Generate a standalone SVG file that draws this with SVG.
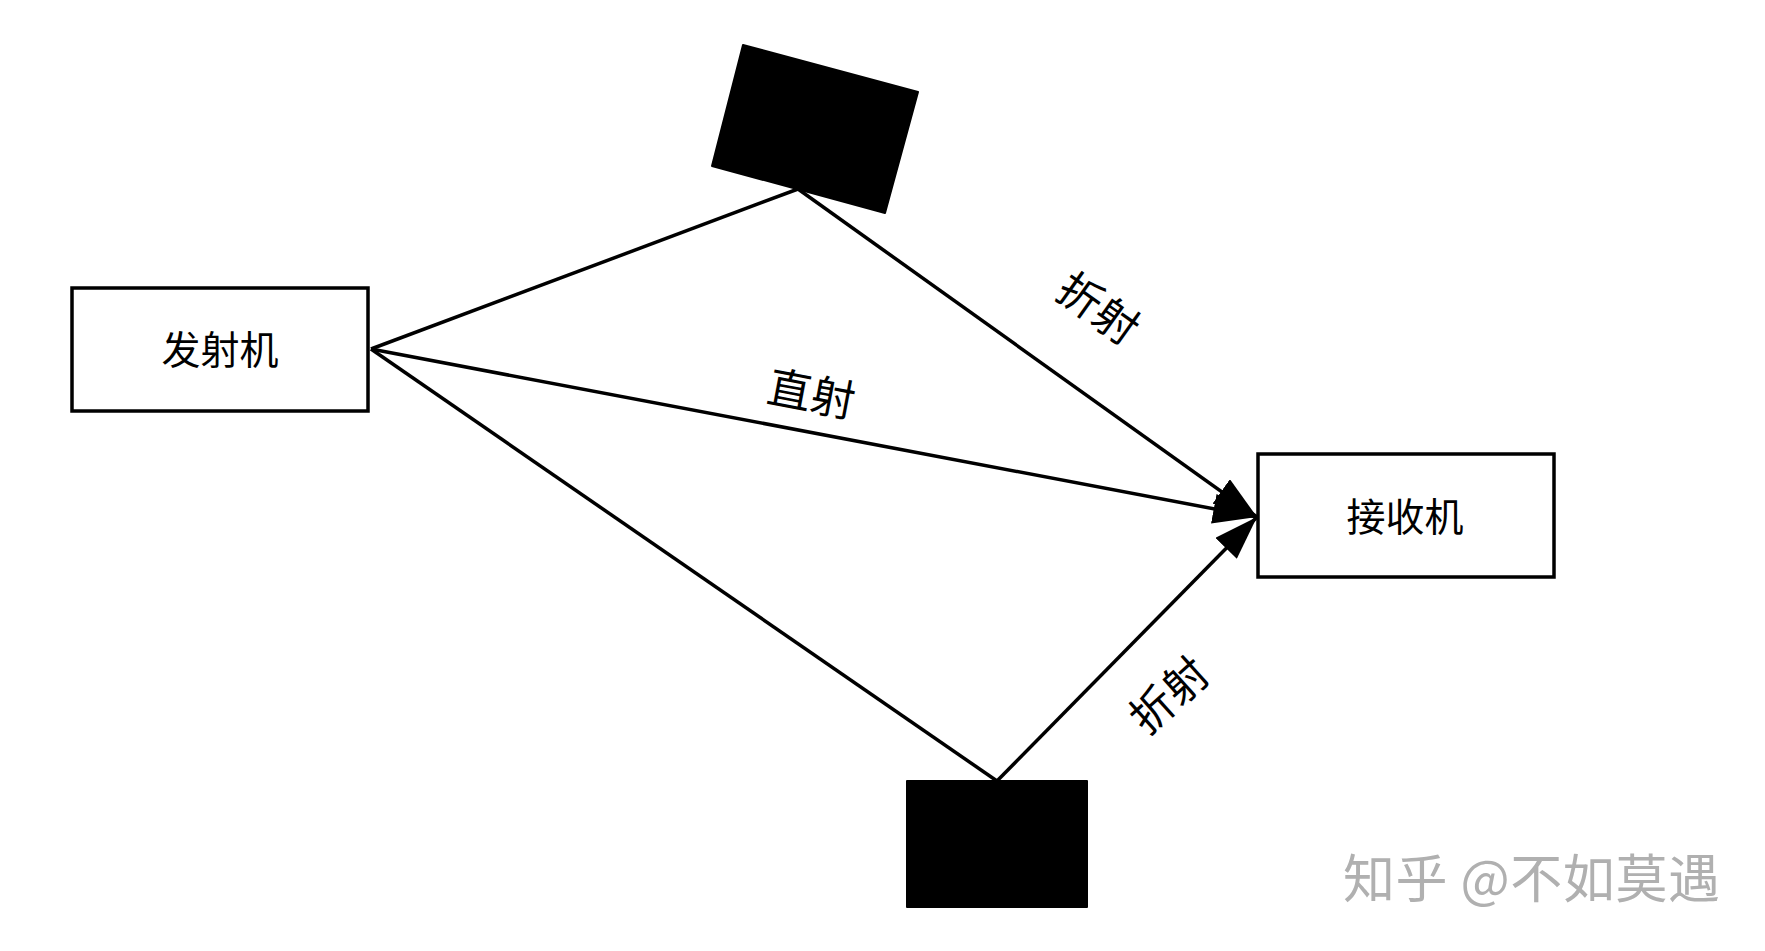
<svg xmlns="http://www.w3.org/2000/svg" width="1765" height="951" viewBox="0 0 1765 951">
<style>
.box{fill:#fff;stroke:#000;stroke-width:3.5}
.blk{fill:#000;stroke:#000;stroke-width:2;stroke-linejoin:round}
.lbl{font-family:"Noto Sans CJK SC","Liberation Sans",sans-serif;font-size:39px;fill:#000;text-anchor:middle;dominant-baseline:central}
.elbl{font-size:44px}
.ln{fill:none;stroke:#000;stroke-width:3.5}
.wm{font-family:"Noto Sans CJK SC","Liberation Sans",sans-serif;font-size:52px;fill:#b0b0b0}
</style>
<defs>
<marker id="ah" viewBox="0 0 44 30" refX="44" refY="15" markerWidth="44" markerHeight="30" markerUnits="userSpaceOnUse" orient="auto">
<path d="M0,0 L44,15 L0,30 z" fill="#000"/>
</marker>
</defs>
<rect width="1765" height="951" fill="#fff"/>
<g id="connectors">
<line class="ln" x1="371" y1="349" x2="798" y2="189"/>
<line class="ln" x1="798" y1="189" x2="1257" y2="517" marker-end="url(#ah)"/>
<line class="ln" x1="371" y1="349" x2="1257" y2="517" marker-end="url(#ah)"/>
<line class="ln" x1="371" y1="349" x2="997" y2="781"/>
<line class="ln" x1="997" y1="781" x2="1257" y2="517" marker-end="url(#ah)"/>
</g>
<g id="transmitter">
<rect class="box" x="72" y="288" width="296" height="123"/>
<text class="lbl" x="220" y="347">发射机</text>
</g>
<g id="receiver">
<rect class="box" x="1258" y="454" width="296" height="123"/>
<text class="lbl" x="1405" y="514">接收机</text>
</g>
<g id="reflector-top">
<polygon class="blk" points="743,45 918,92 885,213 712,166"/>
</g>
<g id="reflector-bottom">
<rect class="blk" x="907" y="781" width="180" height="126"/>
</g>
<g id="labels">
<text class="lbl elbl" transform="translate(812,391) rotate(10.7)">直射</text>
<text class="lbl elbl" transform="translate(1100,306) rotate(35.5)">折射</text>
<text class="lbl elbl" transform="translate(1167,693) rotate(-42)">折射</text>
</g>
<text class="wm" x="1343" y="898" textLength="377" lengthAdjust="spacing">知乎 @不如莫遇</text>
</svg>
